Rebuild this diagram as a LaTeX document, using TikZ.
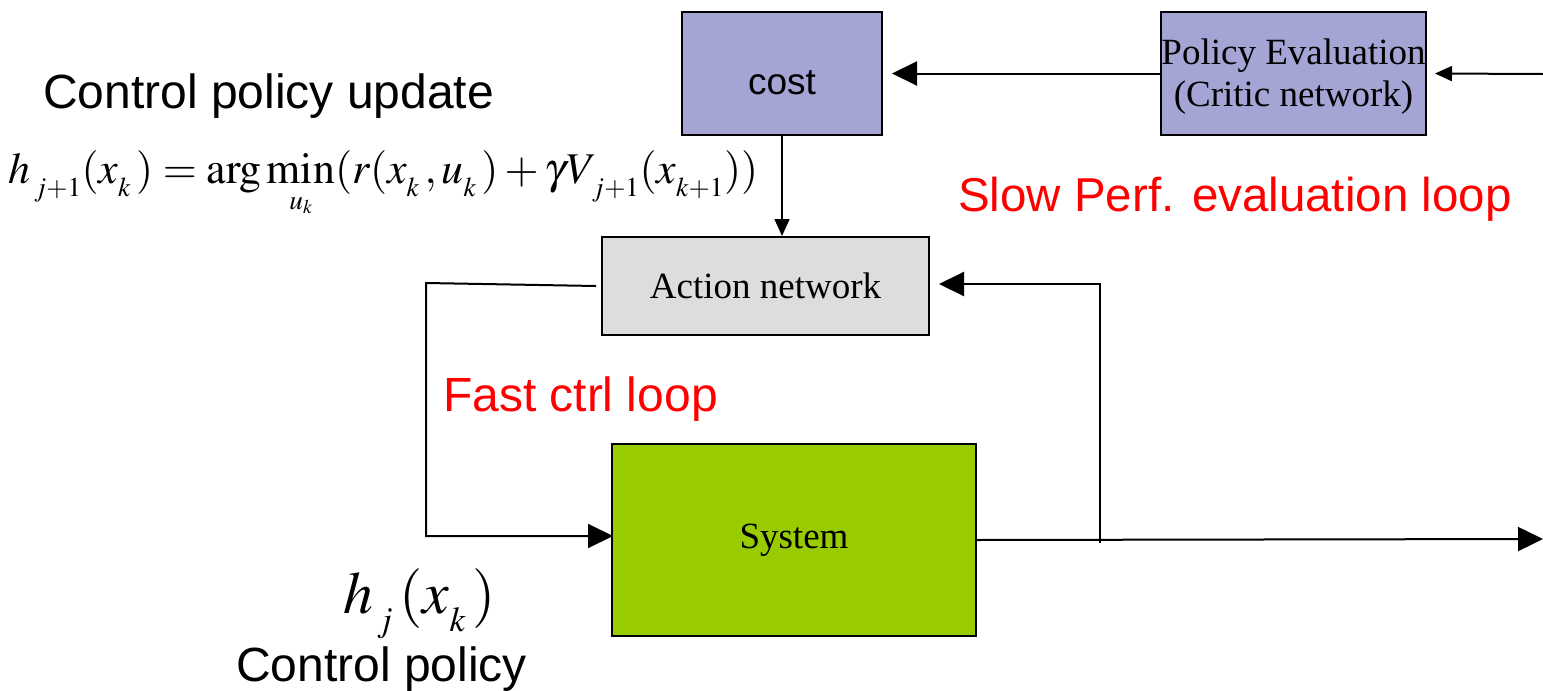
\documentclass[tikz,border=0pt]{standalone}
\usepackage{mathptmx}
\usepackage[no-math]{fontspec}
\setmainfont{Liberation Sans}
\newfontfamily\boxfont{Liberation Serif}
\usetikzlibrary{arrows.meta}
\DeclareMathSizes{45}{45}{28}{20}
\DeclareMathSizes{58}{58}{34}{24}
% subscript set lower than usual
\newcommand{\dn}[2][7pt]{_{\lower#1\hbox{$\scriptstyle#2$}}}
\definecolor{critic}{HTML}{A5A5D5}
\definecolor{actgray}{HTML}{DDDDDD}
\definecolor{sysgreen}{HTML}{99CC00}
\begin{document}
\begin{tikzpicture}[x=1pt,y=-1pt,line width=2pt,
  blk/.style={draw,line width=2pt,inner sep=0pt,anchor=north west,
    font=\boxfont\fontsize{37}{42}\selectfont,align=center},
  big/.style={-{Triangle[length=25pt,width=24pt]}},
  sm/.style={-{Triangle[length=17pt,width=15pt]}},
  lab/.style={font=\fontsize{48}{50}\selectfont,anchor=base west,inner sep=0pt},
  redlab/.style={lab,text=red}]
\useasboundingbox (0,0) rectangle (1543,691);

% blocks
\node[blk,fill=critic,minimum width=200pt,minimum height=123pt,
  font=\fontsize{37}{40}\selectfont,text height=41pt,text depth=0pt] (cost) at (681,11) {cost};
\node[blk,fill=critic,minimum width=265pt,minimum height=123pt] (policy) at (1160,11)
  {\raisebox{0pt}[0pt][19pt]{\begin{tabular}[t]{@{}c@{}}Policy Evaluation\\(Critic network)\end{tabular}}};
\node[blk,fill=actgray,minimum width=327pt,minimum height=98pt] (action) at (601,236)
  {Action network};
\node[blk,fill=sysgreen,minimum width=364pt,minimum height=192pt] (system) at (611,443)
  {System};

% labels
\node[lab] (upd) at (42,108) {Control policy update};
\node[anchor=base west,inner sep=0pt] (law) at (8,183)
  {\resizebox{749pt}{!}{\fontsize{45}{50}\selectfont$h\dn{\,j+1}(x\dn{k}\,)=\arg\min\limits_{u_k}(r(x\dn{k}\,,u\dn{k}\,)+\gamma V\dn{\,j+1}(x\dn{k+1}))$}};
\node[redlab,font=\fontsize{47.5}{50}\selectfont] (slow) at (957,211) {Slow Perf. evaluation loop};
\node[redlab] (fast) at (442,411) {Fast ctrl loop};
\node[anchor=base west,inner sep=0pt] (hj) at (342,613)
  {\resizebox{153pt}{!}{\fontsize{58}{60}\selectfont$h\dn[9pt]{\,j}\,(x\dn[9pt]{k}\,)$}};
\node[lab] (pol) at (235,681) {Control policy};

% connectors
\coordinate (critin) at (1543,74);
\draw[sm] (critin) -- ([xshift=8pt]policy.east);
\draw[big] (policy.west) -- ([xshift=9pt]cost.east);
\draw[sm,line width=1.5pt] (cost.south) -- (cost.south |- action.north);

\coordinate (lt) at (426,283);
\coordinate (lb) at (426,536);
\draw[big] ([xshift=-5pt]action.west) -- (lt) -- (lb) -- ([xshift=2pt]lb -| system.west);

\coordinate (out) at (1543,539);
\draw[big] (system.east) -- (out);

\coordinate (rb) at (1100,543);
\coordinate (rt) at (1100,284);
\draw[big] (rb) -- (rt) -- ([xshift=9pt]rt -| action.east);
\end{tikzpicture}
\end{document}
